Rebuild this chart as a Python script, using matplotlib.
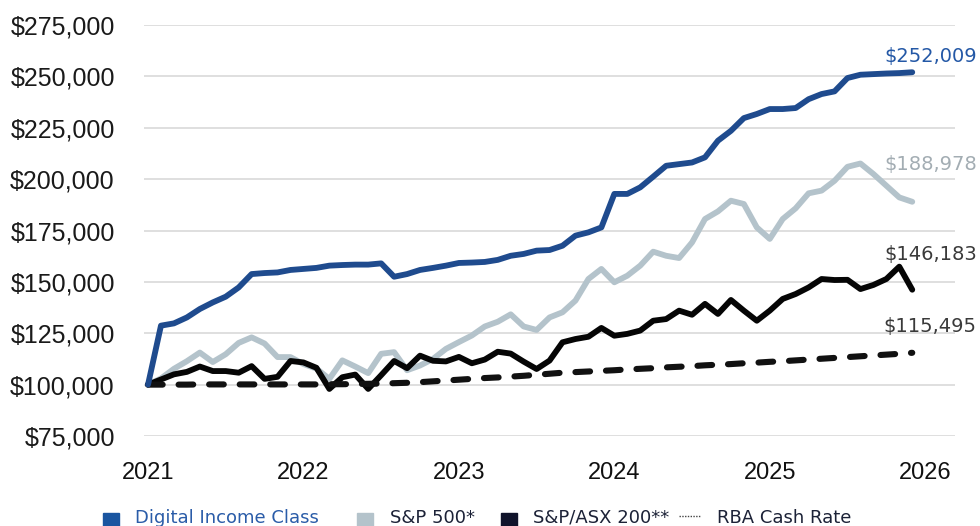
import numpy as np
import matplotlib
matplotlib.use('Agg')
import matplotlib.pyplot as plt
from matplotlib.lines import Line2D

# monthly values, Jan 2021 .. Dec 2025, in $ thousands
digital_income = [100, 128.7, 129.8, 132.7, 136.8, 140.0, 142.8, 147.3, 153.8, 154.3,
                  154.6, 155.8, 156.3, 156.8, 157.9, 158.2, 158.4, 158.4, 159.0, 152.5,
                  153.8, 155.8, 156.8, 157.9, 159.2, 159.4, 159.7, 160.7, 162.7, 163.6,
                  165.2, 165.5, 167.6, 172.5, 174.1, 176.5, 192.8, 192.8, 196.0, 201.2,
                  206.5, 207.3, 208.1, 210.6, 218.7, 223.5, 229.7, 231.7, 234.1, 234.1,
                  234.6, 238.9, 241.4, 242.7, 249.2, 250.8, 251.1, 251.4, 251.6, 252.009]
sp500 = [100, 103.0, 107.7, 111.4, 115.6, 111.0, 114.8, 120.3, 123.0, 120.0,
         113.4, 113.4, 110.0, 107.8, 102.8, 111.8, 108.8, 105.6, 115.0, 115.8,
         107.0, 109.3, 112.5, 117.4, 120.7, 123.9, 128.3, 130.6, 134.2, 128.3,
         126.6, 132.7, 135.2, 140.9, 151.4, 156.3, 149.8, 153.0, 157.9, 164.7,
         162.7, 161.6, 169.2, 180.6, 184.3, 189.5, 187.9, 176.5, 170.9, 180.6,
         185.8, 193.1, 194.4, 199.2, 206.0, 207.6, 202.5, 196.8, 191.1, 188.978]
asx200 = [100, 102.5, 105.0, 106.2, 108.8, 106.6, 106.6, 105.8, 109.0, 102.8,
          103.8, 111.5, 110.8, 108.2, 97.9, 103.6, 104.9, 97.9, 104.6, 111.5,
          108.0, 114.1, 111.6, 111.3, 113.5, 110.4, 112.2, 116.0, 115.1, 111.2,
          107.6, 111.7, 120.6, 122.2, 123.3, 127.6, 123.8, 124.7, 126.3, 131.1,
          131.9, 136.0, 134.0, 139.3, 134.4, 141.2, 136.0, 131.1, 136.0, 141.7,
          144.1, 147.3, 151.4, 150.9, 151.0, 146.5, 148.5, 151.4, 157.4, 146.183]
rba_cash = [100.0, 100.0, 100.0, 100.0, 100.1, 100.1, 100.1, 100.1, 100.1, 100.1,
            100.1, 100.1, 100.1, 100.1, 100.2, 100.2, 100.3, 100.4, 100.5, 100.7,
            100.9, 101.2, 101.6, 102.0, 102.4, 102.8, 103.2, 103.5, 103.9, 104.3,
            104.8, 105.3, 105.8, 106.1, 106.4, 106.7, 107.0, 107.4, 107.7, 108.0,
            108.4, 108.7, 109.0, 109.4, 109.7, 110.0, 110.4, 110.7, 111.1, 111.4,
            111.8, 112.2, 112.6, 113.0, 113.4, 113.8, 114.2, 114.6, 115.0, 115.495]

years = ['2021', '2022', '2023', '2024', '2025', '2026']
y_ticks = [75000, 100000, 125000, 150000, 175000, 200000, 225000, 250000, 275000]

BLUE = '#1f4b8e'
GRAY = '#b4c3cb'
BLACK = '#050505'

W, H = 980, 526
fig = plt.figure(figsize=(W / 100, H / 100), dpi=100)
ax = fig.add_axes([144 / W, 1 - 436 / H, (955 - 144) / W, (436 - 25) / H])

months = np.arange(len(digital_income))
series = {k: np.array(v) * 1000 for k, v in
          [('blue', digital_income), ('gray', sp500), ('black', asx200), ('rba', rba_cash)]}

LW = 4.2
ax.plot(months, series['gray'], color=GRAY, lw=LW, solid_joinstyle='round',
        solid_capstyle='round', zorder=3)
ax.plot(months, series['black'], color=BLACK, lw=LW, solid_joinstyle='round',
        solid_capstyle='round', zorder=4)
ax.plot(months, series['rba'], color='#111111', lw=4.4, linestyle=(0, (2.4, 2.6)),
        dash_capstyle='round', zorder=5)
ax.plot(months, series['blue'], color=BLUE, lw=LW, solid_joinstyle='round',
        solid_capstyle='round', zorder=6)

ax.set_xlim(-0.31, 62.3)
ax.set_ylim(75000, 275000)
ax.set_yticks(y_ticks)
ax.set_yticklabels([f'${v:,}' for v in y_ticks], fontfamily='Liberation Sans',
                   fontsize=18, color='#1a1a1a')
ax.set_xticks(np.arange(0, 61, 12))
ax.set_xticklabels(years, fontfamily='Liberation Sans', fontsize=17, color='#111111')
ax.tick_params(axis='y', length=0, pad=21)
ax.tick_params(axis='x', length=0, pad=19)
ax.yaxis.grid(True, color='#dcdcdc', lw=1.3)
ax.set_axisbelow(True)
for s in ax.spines.values():
    s.set_visible(False)

# end-of-line value labels
labels = [('blue', '#2458a6', 11.5), ('gray', '#a3adb3', 26.5), ('black', '#3a3a3a', 25),
          ('rba', '#3a3a3a', 19)]
for key, col, dy in labels:
    v = series[key][-1]
    ax.annotate(f'${v:,.0f}', xy=(months[-1], v), xytext=(46.5, dy),
                textcoords='offset points', ha='right', va='center',
                fontsize=14, color=col, fontfamily='DejaVu Sans',
                annotation_clip=False)

# legend along the bottom edge
def fx(px):
    return px / W

def fy(py):
    return 1 - py / H

for cx, col in [(110.5, '#1a55a0'), (365, GRAY), (508.5, '#10132b')]:
    fig.add_artist(Line2D([fx(cx)], [fy(521)], marker='s', markersize=11.5,
                          color=col, linestyle='none', transform=fig.transFigure))
fig.add_artist(Line2D([fx(679), fx(700)], [fy(516), fy(516)], color='#444444',
                      lw=1.0, linestyle=(0, (1, 1)), transform=fig.transFigure))
for tx, txt, col in [(135, 'Digital Income Class', '#2a5ca8'), (390, 'S&P 500*', '#1c2237'),
                     (533, 'S&P/ASX 200**', '#1c2237'), (717, 'RBA Cash Rate', '#1c2237')]:
    fig.text(fx(tx), fy(523), txt, fontsize=13, color=col, ha='left', va='baseline',
             fontfamily='DejaVu Sans')

fig.savefig('out.png', dpi=100)
